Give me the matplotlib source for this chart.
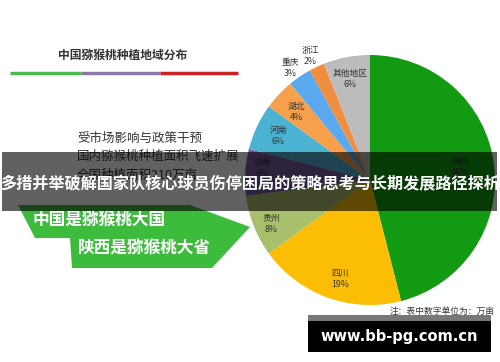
import matplotlib.pyplot as plt
from matplotlib.patches import Rectangle, Polygon

plt.rcParams['font.family'] = ['Noto Sans CJK SC', 'DejaVu Sans']

# -- data
regions = ['陕西', '四川', '贵州', '湖南', '河南', '湖北', '重庆', '浙江', '其他地区']
shares = [46, 19, 8, 6, 6, 4, 3, 2, 6]
slice_colors = ['#129b12', '#fbbe04', '#a8bf6c', '#7a5ca6', '#4cb2d2',
                '#f6a04c', '#5aa9ee', '#ef8e3e', '#bcbcbc']
# label positions (pixels from top-left)
label_pos = [(460, 167), (340, 279), (271, 224), (262, 168), (278, 136),
             (296, 112), (290, 68), (310, 56), (350, 79)]

side_lines = ['受市场影响与政策干预', '国内猕猴桃种植面积飞速扩展', '全国种植面积210万亩']
banner_lines = ['中国是猕猴桃大国', '陕西是猕猴桃大省']
chart_title = '中国猕猴桃种植地域分布'
headline = '多措并举破解国家队核心球员伤停困局的策略思考与长期发展路径探析'
note = '注：表中数字单位为：万亩'
site = 'www.bb-pg.com.cn'

W, H = 500, 362


def Y(y):
    return H - y


fig = plt.figure(figsize=(5, 3.62), dpi=100)
ax = fig.add_axes([0, 0, 1, 1])

# pie
ax.pie(shares, colors=slice_colors, startangle=90, counterclock=False,
       center=(370, Y(180)), radius=125, frame=True,
       wedgeprops=dict(linewidth=0))
ax.set_xlim(0, W)
ax.set_ylim(0, H)
ax.axis('off')
for name, val, (px, py) in zip(regions, shares, label_pos):
    ax.text(px, Y(py), f'{name}\n{val}%', ha='center', va='center',
            fontsize=6.3, color='#333333', linespacing=1.3)

# left title and underline
ax.text(123, Y(55), chart_title, ha='center', va='center', fontsize=8.5,
        fontweight='bold', color='#333333')
ax.plot([10, 81], [Y(73), Y(73)], color='#4cbb4c', lw=2.5, solid_capstyle='butt')
ax.plot([81, 160], [Y(73), Y(73)], color='#8a78aa', lw=2.5, solid_capstyle='butt')
ax.plot([160, 238], [Y(73), Y(73)], color='#cc2424', lw=2.5, solid_capstyle='butt')

for i, line in enumerate(side_lines):
    ax.text(77, Y(138 + i * 18.5), line, ha='left', va='center', fontsize=9,
            color='#333333')

# green banner
banner = Polygon([(18, Y(205)), (190, Y(205)), (250, Y(227)), (212, Y(268)),
                  (72, Y(268)), (70, Y(238)), (35, Y(238))],
                 closed=True, facecolor='#3dbb3d', edgecolor='none', zorder=3)
ax.add_patch(banner)
ax.text(33, Y(221), banner_lines[0], ha='left', va='center', fontsize=12,
        fontweight='bold', color='white', zorder=4)
ax.text(78, Y(249), banner_lines[1], ha='left', va='center', fontsize=12,
        fontweight='bold', color='white', zorder=4)

# dark overlay band with headline
ax.add_patch(Rectangle((2, Y(211)), 495, 59, facecolor='black', alpha=0.62,
                       edgecolor='none', zorder=5))
ax.text(250, Y(184), headline, ha='center', va='center', fontsize=11.6,
        fontweight='bold', color='white', zorder=6)

# note and site box
ax.text(495, Y(311), note, ha='right', va='center', fontsize=6.3,
        color='#333333')
ax.add_patch(Rectangle((308, Y(321)), 183, 6, facecolor='#777777',
                       edgecolor='none', zorder=5))
ax.add_patch(Rectangle((308, Y(352)), 183, 31, facecolor='black',
                       edgecolor='none', zorder=5))
ax.text(399, Y(336), site, ha='center', va='center', fontsize=10.5,
        fontweight='bold', color='white', family='DejaVu Sans', zorder=6)

fig.savefig('out.png', dpi=100)
